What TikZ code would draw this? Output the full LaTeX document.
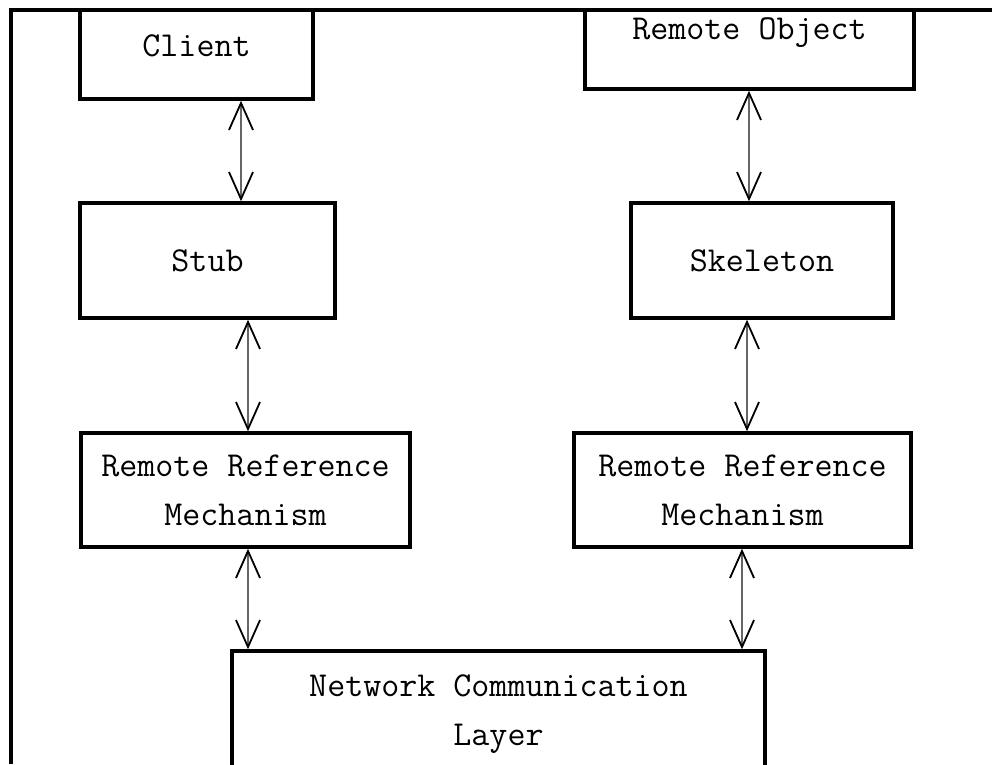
\documentclass[tikz,border=0pt]{standalone}
\usepackage{fontspec}
\usetikzlibrary{arrows.meta}
\tikzset{
  boxnode/.style={draw=black, line width=3.5pt, fill=white, inner sep=0pt, align=center,
    font=\ttfamily\fontsize{35}{49}\selectfont},
  dbl/.style={line width=1.8pt, draw=black!60,
    {Straight Barb[length=27pt,width=24pt,color=black]}-{Straight Barb[length=27pt,width=24pt,color=black]}}
}
\begin{document}
\begin{tikzpicture}[x=1pt,y=-1pt]
\useasboundingbox (0,0) rectangle (992,764);
\fill[white] (0,0) rectangle (992,764);
\begin{scope}
\clip (11,10) rectangle (992,764);
\node[boxnode, minimum width=233pt, minimum height=107pt] (client) at (196.5,45.5) {Client};
\node[boxnode, minimum width=329pt, minimum height=112pt] (robj) at (749.5,33) {Remote Object};
\node[boxnode, minimum width=255pt, minimum height=115pt] (stub) at (207.5,260.5) {Stub};
\node[boxnode, minimum width=262pt, minimum height=115pt] (skel) at (762,260.5) {Skeleton};
\node[boxnode, minimum width=329pt, minimum height=114pt] (rrml) at (245.5,490) {Remote Reference\\Mechanism};
\node[boxnode, minimum width=337pt, minimum height=114pt] (rrmr) at (742.5,490) {Remote Reference\\Mechanism};
\node[boxnode, minimum width=533pt, minimum height=126pt] (net) at (498.5,714) {Network Communication\\Layer};
\end{scope}
\draw[line width=3.5pt] (11,764) -- (11,10) -- (992,10);
\draw[dbl] (241,0 |- client.south) -- (241,0 |- stub.north);
\draw[dbl] (749,0 |- robj.south) -- (749,0 |- skel.north);
\draw[dbl] (248,0 |- stub.south) -- (248,0 |- rrml.north);
\draw[dbl] (747,0 |- skel.south) -- (747,0 |- rrmr.north);
\draw[dbl] (248,0 |- rrml.south) -- (248,0 |- net.north);
\draw[dbl] (742,0 |- rrmr.south) -- (742,0 |- net.north);
\end{tikzpicture}
\end{document}
